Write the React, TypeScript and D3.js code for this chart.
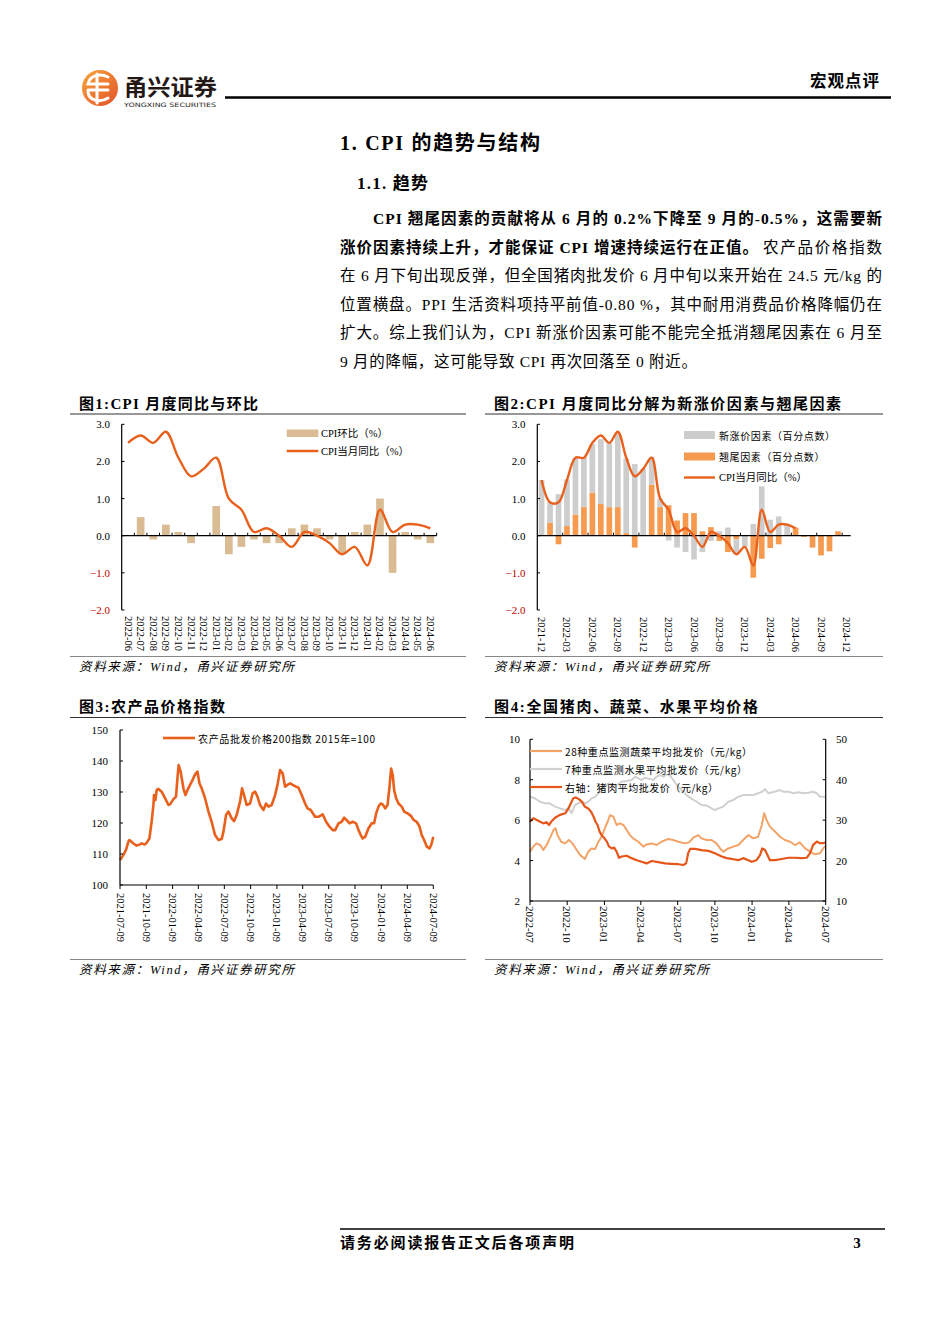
import React from 'react';
import * as d3 from 'd3';

const SERIF = '"Liberation Serif", "Times New Roman", "Noto Sans CJK SC", serif';
const SANS = '"Noto Sans CJK SC", sans-serif';

// ---------- Chart 1 data ----------
const c1Months = ['2022-06','2022-07','2022-08','2022-09','2022-10','2022-11','2022-12','2023-01','2023-02','2023-03','2023-04','2023-05','2023-06','2023-07','2023-08','2023-09','2023-10','2023-11','2023-12','2024-01','2024-02','2024-03','2024-04','2024-05','2024-06'];
const c1Mom = [0.0,0.5,-0.1,0.3,0.1,-0.2,0.0,0.8,-0.5,-0.3,-0.1,-0.2,-0.2,0.2,0.3,0.2,-0.1,-0.5,0.1,0.3,1.0,-1.0,0.1,-0.1,-0.2];
const c1Yoy = [2.5,2.7,2.5,2.8,2.1,1.6,1.8,2.1,1.0,0.7,0.1,0.2,0.0,-0.3,0.1,0.0,-0.2,-0.5,-0.3,-0.8,0.7,0.1,0.3,0.3,0.2];
const c1Ticks = [-2, -1, 0, 1, 2, 3];

// ---------- Chart 2 data ----------
const c2Months = ['2021-12','2022-01','2022-02','2022-03','2022-04','2022-05','2022-06','2022-07','2022-08','2022-09','2022-10','2022-11','2022-12','2023-01','2023-02','2023-03','2023-04','2023-05','2023-06','2023-07','2023-08','2023-09','2023-10','2023-11','2023-12','2024-01','2024-02','2024-03','2024-04','2024-05','2024-06','2024-07','2024-08','2024-09','2024-10','2024-11','2024-12'];
const c2Tail = [0,0.35,-0.23,0.26,0.57,0.77,1.16,0.86,0.77,0.77,0.07,-0.32,0,1.37,0.77,0.82,0.41,0.61,0.61,0.12,0.23,-0.14,-0.44,-0.1,0,-1.13,-0.62,-0.33,-0.23,0,0.22,-0.03,-0.32,-0.53,-0.42,0.12,0];
const c2New = [1.5,0.55,1.12,1.26,1.51,1.35,1.3,1.74,1.72,1.99,2.01,1.93,1.8,0.76,0.23,-0.13,-0.32,-0.44,-0.64,-0.44,-0.14,0.12,0.22,-0.4,-0.3,0.32,1.33,0.43,0.52,0.3,0,0,0,0,0,0,0];
const c2Yoy = [1.5,0.9,0.9,1.5,2.1,2.1,2.5,2.7,2.5,2.8,2.1,1.6,1.8,2.1,1.0,0.7,0.1,0.2,0.0,-0.3,0.1,0.0,-0.2,-0.5,-0.3,-0.8,0.7,0.1,0.3,0.3,0.2];

// ---------- Chart 3 data (weeks since 2021-07-09, index value) ----------
const c3Start = new Date(2021, 6, 9);
const c3End = new Date(2024, 6, 9);
const c3Week = [0,1.7,3,4.2,4.7,6.7,8.3,10,10.8,12.5,13.3,14.7,15.8,16.7,17,17.7,18.3,19.2,20.8,22.5,24.2,25,26.7,28,28.7,29.3,30.3,31.7,32.7,33.7,35,36.3,37,38,38.7,39.7,40.8,42.5,44.2,45.8,47.5,49.2,50.8,51.7,53,54.2,55.8,57,58.3,60,61,62,63.3,65,66.3,67.5,68.7,70,71.7,73,74.2,75.8,77.5,78.7,80,81.3,82.5,83.7,85,86.3,88,89.2,90.8,92.5,93.7,95.3,97.5,99.2,101.3,103,104.7,106.3,107.5,109.2,110.8,112,113.3,114.7,116.3,118,119.2,120.3,121.3,122.5,124.2,125.8,127,128,129.2,130.3,131.3,132.5,133.7,134.7,135.5,136.3,137,138,139.2,140.8,142,143.7,145.3,146.7,148.3,149.7,150.8,152,153.3,154.7,155.5,156.6];
const c3Val = [108.1,109.7,111.3,114,114.5,113.4,112.7,113.1,113.4,113.1,113.6,115,120.4,125.8,129,127.4,130.6,131,130.1,128,125.8,126,127.7,128.5,134.4,138.7,136.6,131.2,129,130.6,132.3,133.9,135,136.1,136.6,132.8,131.2,128,123.7,120.4,116.1,114.5,114.8,117.2,122.6,123.7,121.5,120.6,122.6,126.9,131.2,129,125.8,126.3,129.6,130.1,128.5,125.8,124.2,126.3,125.3,125.8,129,132.3,137.1,136,131.7,132.3,132.8,132.3,131.7,131.4,129,126.3,124.7,124.2,122,122,122.8,120.4,118.8,117.7,117.7,119.9,120.4,121.7,120.9,119.9,120.4,119.9,117.7,116.1,115,115.5,118.3,119.9,119.9,123.1,125.3,126.3,126,124.7,125.8,131.7,137.6,135.5,130.6,128,126.3,125.3,123.7,123.1,122.4,121,120.4,118.8,116.1,114.5,112.4,111.8,112.9,115.5];
const c3Ticks = ['2021-07-09','2021-10-09','2022-01-09','2022-04-09','2022-07-09','2022-10-09','2023-01-09','2023-04-09','2023-07-09','2023-10-09','2024-01-09','2024-04-09','2024-07-09'];
const c3YTicks = [100, 110, 120, 130, 140, 150];

// ---------- Chart 4 data (days since 2022-07-01) ----------
const c4Start = new Date(2022, 6, 1);
const c4End = new Date(2024, 6, 1);
const c4Veg = [[0,4.44],[8,4.69],[16,4.85],[25,4.77],[33,4.52],[41,4.77],[49,5.1],[58,5.51],[63,5.6],[68,5.26],[77,4.93],[87,4.85],[96,5.02],[105,4.85],[113,4.6],[124,4.27],[136,4.08],[144,4.44],[152,4.6],[161,4.57],[169,4.93],[177,5.18],[185,5.6],[192,5.92],[198,6.25],[206,6.17],[214,5.76],[222,5.84],[231,5.76],[239,5.51],[247,5.26],[255,5.1],[268,4.93],[280,4.69],[288,4.8],[301,4.85],[313,4.77],[325,4.93],[342,5.07],[354,5.02],[367,4.93],[383,4.85],[393,4.9],[404,5.13],[416,5.26],[424,5.1],[437,5.02],[449,5.02],[461,4.85],[470,4.6],[478,4.44],[490,4.6],[503,4.69],[515,4.77],[527,5.02],[540,5.26],[552,5.1],[564,5.18],[573,5.76],[579,6.34],[585,6.0],[593,5.68],[606,5.43],[618,5.18],[630,5.02],[643,4.93],[655,4.77],[667,4.9],[680,4.6],[692,4.44],[705,4.31],[717,4.36],[725,4.6],[731,4.74]];
const c4Fruit = [[0,7.16],[12,7.08],[25,6.91],[37,6.83],[49,6.83],[62,6.67],[74,6.58],[87,6.5],[95,6.58],[103,6.34],[111,6.75],[119,6.83],[128,6.91],[136,6.83],[144,6.91],[152,7.08],[161,7.16],[169,7.33],[177,7.49],[185,7.66],[194,7.82],[202,7.77],[214,7.74],[227,7.9],[239,7.94],[251,7.99],[260,8.15],[268,8.07],[276,7.99],[284,8.1],[297,8.04],[305,7.99],[313,8.15],[321,8.23],[330,8.15],[338,8.27],[346,8.2],[354,7.99],[363,7.74],[375,7.49],[387,7.24],[400,7.05],[412,6.91],[424,6.75],[437,6.72],[449,6.58],[457,6.5],[466,6.58],[478,6.67],[490,6.91],[503,7.0],[515,7.16],[527,7.24],[540,7.24],[552,7.24],[564,7.33],[574,7.41],[581,7.54],[589,7.33],[599,7.38],[610,7.44],[618,7.49],[626,7.41],[639,7.41],[651,7.33],[663,7.38],[676,7.33],[688,7.36],[700,7.41],[709,7.33],[717,7.16],[725,7.16],[731,7.16]];
const c4Pork = [[0,29.6],[8,30.5],[16,30.1],[25,29.6],[33,29.2],[41,29.5],[47,28.8],[54,29.8],[62,30.6],[74,31.3],[87,31.7],[95,32.9],[101,34.2],[107,35.4],[113,35.6],[121,35.2],[128,34.6],[136,33.3],[144,32.9],[151,32.1],[157,30.9],[162,29.6],[167,28.8],[172,27.2],[177,26.3],[184,25.5],[190,24.7],[195,23.5],[202,23.0],[208,23.2],[214,22.2],[220,20.7],[227,21.0],[239,21.2],[251,20.6],[264,20.1],[276,19.7],[288,19.3],[301,19.9],[317,19.6],[334,19.3],[350,19.2],[367,19.1],[379,18.9],[386,19.3],[391,21.8],[396,22.9],[408,22.9],[424,22.6],[441,22.4],[457,21.8],[474,21.0],[486,20.6],[499,20.4],[515,20.1],[527,20.6],[540,20.1],[548,19.7],[560,20.1],[569,21.4],[574,23.0],[581,22.6],[587,21.4],[593,20.1],[606,20.1],[622,20.4],[639,20.7],[655,20.7],[672,20.6],[684,20.7],[692,21.8],[700,23.9],[709,24.7],[717,24.3],[725,24.3],[731,24.5]];
const c4Ticks = ['2022-07','2022-10','2023-01','2023-04','2023-07','2023-10','2024-01','2024-04','2024-07'];
const c4LTicks = [2, 4, 6, 8, 10];
const c4RTicks = [10, 20, 30, 40, 50];

const ORANGE_LINE = '#E8601C';
const RED = '#C00000';

function RotLabel({ x, y, text, size }: { x: number; y: number; text: string; size: number }) {
  return (
    <text transform={`translate(${x},${y}) rotate(90)`} fontSize={size} fontFamily={SERIF} dominantBaseline="central" fill="#000">
      {text}
    </text>
  );
}

function Chart1() {
  const x = d3.scaleBand<string>().domain(c1Months).range([121.7, 436.7]).paddingInner(0.39).paddingOuter(0.2);
  const y = d3.scaleLinear().domain([-2, 3]).range([610, 424.3]);
  const cx = (m: string) => (x(m) as number) + x.bandwidth() / 2;
  const line = d3.line<number>().x((_, i) => cx(c1Months[i])).y((d) => y(d)).curve(d3.curveCatmullRom.alpha(0.5));
  return (
    <g>
      {c1Months.map((m, i) => (
        <rect key={m} x={x(m)} width={x.bandwidth()} y={y(Math.max(0, c1Mom[i]))} height={Math.abs(y(c1Mom[i]) - y(0))} fill="#D9BC94" />
      ))}
      <line x1={121.7} x2={436.7} y1={y(0)} y2={y(0)} stroke="#000" strokeWidth={1.2} />
      {c1Months.map((m, i) => (
        <line key={'t' + m} x1={121.7 + (i + 1) * 12.6} x2={121.7 + (i + 1) * 12.6} y1={y(0)} y2={y(0) - 3} stroke="#000" strokeWidth={1} />
      ))}
      <path d={line(c1Yoy) || ''} fill="none" stroke={ORANGE_LINE} strokeWidth={2.4} />
      <line x1={121.7} x2={121.7} y1={y(3)} y2={y(-2)} stroke="#000" strokeWidth={1.2} />
      {c1Ticks.map((t) => (
        <g key={t}>
          <line x1={121.7} x2={124.5} y1={y(t)} y2={y(t)} stroke="#000" />
          <text x={110} y={y(t)} textAnchor="end" dominantBaseline="central" fontSize={11} fontFamily={SERIF} fill={t < 0 ? RED : '#000'}>
            {d3.format('.1f')(t)}
          </text>
        </g>
      ))}
      {c1Months.map((m) => (
        <RotLabel key={'l' + m} x={cx(m)} y={616} text={m} size={10.5} />
      ))}
      <rect x={286.7} y={429.5} width={31.6} height={7.5} fill="#D9BC94" />
      <text x={321} y={433.5} fontSize={10.5} fontFamily={SERIF} dominantBaseline="central">CPI环比（%）</text>
      <line x1={286.7} x2={318.3} y1={451} y2={451} stroke={ORANGE_LINE} strokeWidth={2.4} />
      <text x={321} y={451} fontSize={10.5} fontFamily={SERIF} dominantBaseline="central">CPI当月同比（%）</text>
    </g>
  );
}

function Chart2() {
  const x = d3.scaleBand<string>().domain(c2Months).range([537.3, 850.7]).paddingInner(0.33).paddingOuter(0.17);
  const y = d3.scaleLinear().domain([-2, 3]).range([610, 424.3]);
  const step = x.step();
  const cx = (m: string) => (x(m) as number) + x.bandwidth() / 2;
  const line = d3.line<number>().x((_, i) => cx(c2Months[i])).y((d) => y(d)).curve(d3.curveCatmullRom.alpha(0.5));
  const bars: { m: string; y0: number; y1: number; c: string }[] = [];
  c2Months.forEach((m, i) => {
    const o = c2Tail[i];
    const g = c2New[i];
    bars.push({ m, y0: 0, y1: o, c: '#F59A4E' });
    const base = o !== 0 && Math.sign(o) === Math.sign(g) ? o : 0;
    bars.push({ m, y0: base, y1: base + g, c: '#CDCDCD' });
  });
  return (
    <g>
      {bars.map((b, i) => (
        <rect key={i} x={x(b.m)} width={x.bandwidth()} y={y(Math.max(b.y0, b.y1))} height={Math.abs(y(b.y0) - y(b.y1))} fill={b.c} />
      ))}
      <line x1={537.3} x2={850.7} y1={y(0)} y2={y(0)} stroke="#000" strokeWidth={1.2} />
      {d3.range(3, 38, 3).map((k) => (
        <line key={'t' + k} x1={537.3 + k * step} x2={537.3 + k * step} y1={y(0)} y2={y(0) - 3} stroke="#000" />
      ))}
      <path d={line(c2Yoy) || ''} fill="none" stroke={ORANGE_LINE} strokeWidth={2.4} />
      <line x1={537.3} x2={537.3} y1={y(3)} y2={y(-2)} stroke="#000" strokeWidth={1.2} />
      {c1Ticks.map((t) => (
        <g key={t}>
          <line x1={537.3} x2={540} y1={y(t)} y2={y(t)} stroke="#000" />
          <text x={525.5} y={y(t)} textAnchor="end" dominantBaseline="central" fontSize={11} fontFamily={SERIF} fill={t < 0 ? RED : '#000'}>
            {d3.format('.1f')(t)}
          </text>
        </g>
      ))}
      {c2Months.filter((_, i) => i % 3 === 0).map((m) => (
        <RotLabel key={'l' + m} x={cx(m)} y={617} text={m} size={10.5} />
      ))}
      <rect x={684} y={431} width={31} height={8} fill="#CDCDCD" />
      <text x={719} y={435} fontSize={10} fontFamily={SANS} dominantBaseline="central" letterSpacing={0.6}>新涨价因素（百分点数）</text>
      <rect x={684} y={452.5} width={31} height={8} fill="#F59A4E" />
      <text x={719} y={456.5} fontSize={10} fontFamily={SANS} dominantBaseline="central" letterSpacing={0.6}>翘尾因素（百分点数）</text>
      <line x1={684} x2={715} y1={477.5} y2={477.5} stroke={ORANGE_LINE} strokeWidth={2.4} />
      <text x={719} y={477.5} fontSize={10.5} fontFamily={SERIF} dominantBaseline="central">CPI当月同比（%）</text>
    </g>
  );
}

function Chart3() {
  const x = d3.scaleTime().domain([c3Start, c3End]).range([120, 433.3]);
  const y = d3.scaleLinear().domain([100, 150]).range([885, 730]);
  const pts = c3Week.map((w, i) => ({ d: new Date(c3Start.getTime() + w * 7 * 864e5), v: c3Val[i] }));
  const line = d3.line<{ d: Date; v: number }>().x((p) => x(p.d)).y((p) => y(p.v));
  const parse = d3.timeParse('%Y-%m-%d');
  return (
    <g>
      <path d={line(pts) || ''} fill="none" stroke={ORANGE_LINE} strokeWidth={2.6} strokeLinejoin="round" />
      <line x1={120} x2={120} y1={730} y2={885} stroke="#000" strokeWidth={1.2} />
      <line x1={120} x2={433.3} y1={885} y2={885} stroke="#000" strokeWidth={1.2} />
      {c3YTicks.map((t) => (
        <g key={t}>
          <line x1={120} x2={123} y1={y(t)} y2={y(t)} stroke="#000" />
          <text x={108} y={y(t)} textAnchor="end" dominantBaseline="central" fontSize={11} fontFamily={SERIF}>{t}</text>
        </g>
      ))}
      {c3Ticks.map((t) => {
        const xx = x(parse(t) as Date);
        return (
          <g key={t}>
            <line x1={xx} x2={xx} y1={885} y2={889} stroke="#000" />
            <RotLabel x={xx} y={893} text={t} size={10.5} />
          </g>
        );
      })}
      <line x1={163} x2={195} y1={738} y2={738} stroke={ORANGE_LINE} strokeWidth={2.6} />
      <text x={198} y={738} fontSize={10} fontFamily={SANS} dominantBaseline="central" textLength={177} lengthAdjust="spacing">农产品批发价格200指数 2015年=100</text>
    </g>
  );
}

function Chart4() {
  const x = d3.scaleTime().domain([c4Start, c4End]).range([530, 825.7]);
  const yL = d3.scaleLinear().domain([2, 10]).range([901, 739.3]);
  const yR = d3.scaleLinear().domain([10, 50]).range([901, 739.3]);
  const toDate = (d: number) => d3.timeDay.offset(c4Start, d);
  const lineL = d3.line<number[]>().x((p) => x(toDate(p[0]))).y((p) => yL(p[1]));
  const lineR = d3.line<number[]>().x((p) => x(toDate(p[0]))).y((p) => yR(p[1]));
  const parse = d3.timeParse('%Y-%m');
  return (
    <g>
      <path d={lineL(c4Fruit) || ''} fill="none" stroke="#D0D0D0" strokeWidth={2} strokeLinejoin="round" />
      <path d={lineL(c4Veg) || ''} fill="none" stroke="#F2A468" strokeWidth={2} strokeLinejoin="round" />
      <path d={lineR(c4Pork) || ''} fill="none" stroke="#E4561A" strokeWidth={2.2} strokeLinejoin="round" />
      <line x1={530} x2={530} y1={739.3} y2={901} stroke="#000" strokeWidth={1.2} />
      <line x1={825.7} x2={825.7} y1={739.3} y2={901} stroke="#000" strokeWidth={1.2} />
      <line x1={530} x2={825.7} y1={901} y2={901} stroke="#000" strokeWidth={1.2} />
      {c4LTicks.map((t) => (
        <g key={'l' + t}>
          <line x1={530} x2={533} y1={yL(t)} y2={yL(t)} stroke="#000" />
          <text x={520} y={yL(t)} textAnchor="end" dominantBaseline="central" fontSize={11} fontFamily={SERIF}>{t}</text>
        </g>
      ))}
      {c4RTicks.map((t) => (
        <g key={'r' + t}>
          <line x1={822.7} x2={825.7} y1={yR(t)} y2={yR(t)} stroke="#000" />
          <text x={836} y={yR(t)} textAnchor="start" dominantBaseline="central" fontSize={11} fontFamily={SERIF}>{t}</text>
        </g>
      ))}
      {c4Ticks.map((t) => {
        const xx = x(parse(t) as Date);
        return (
          <g key={t}>
            <line x1={xx} x2={xx} y1={901} y2={905} stroke="#000" />
            <RotLabel x={xx} y={906} text={t} size={11} />
          </g>
        );
      })}
      <line x1={530} x2={562} y1={751} y2={751} stroke="#F2A468" strokeWidth={2.2} />
      <text x={565} y={751} fontSize={10} fontFamily={SANS} dominantBaseline="central" textLength={187} lengthAdjust="spacing">28种重点监测蔬菜平均批发价（元/kg）</text>
      <line x1={530} x2={562} y1={769} y2={769} stroke="#D0D0D0" strokeWidth={2.2} />
      <text x={565} y={769} fontSize={10} fontFamily={SANS} dominantBaseline="central" textLength={182} lengthAdjust="spacing">7种重点监测水果平均批发价（元/kg）</text>
      <line x1={530} x2={562} y1={787} y2={787} stroke="#E4561A" strokeWidth={2.2} />
      <text x={565} y={787} fontSize={10} fontFamily={SANS} dominantBaseline="central" textLength={153} lengthAdjust="spacing">右轴：猪肉平均批发价（元/kg）</text>
    </g>
  );
}

function Frame({ x0, x1, titleY, lineTop, lineBot, srcY, title, titleLen }: any) {
  return (
    <g>
      <text x={x0 + 9} y={titleY} fontSize={15} fontWeight="bold" fontFamily={SERIF} textLength={titleLen} lengthAdjust="spacing">{title}</text>
      <line x1={x0} x2={x1} y1={lineTop} y2={lineTop} stroke="#333" strokeWidth={1.2} />
      <line x1={x0} x2={x1} y1={lineBot} y2={lineBot} stroke="#888" strokeWidth={1.2} />
      <text x={x0 + 9} y={srcY} fontSize={12.5} fontStyle="italic" fontFamily={SERIF} textLength={215} lengthAdjust="spacing">资料来源：Wind，甬兴证券研究所</text>
    </g>
  );
}

export default function App() {
  const para = [
    { y: 224, parts: [{ t: 'CPI 翘尾因素的贡献将从 6 月的 0.2%下降至 9 月的-0.5%，这需要新', b: true, x0: 373, x1: 882 }] },
    { y: 252.5, parts: [{ t: '涨价因素持续上升，才能保证 CPI 增速持续运行在正值。', b: true, x0: 340, x1: 758 }, { t: '农产品价格指数', b: false, x0: 763, x1: 882 }] },
    { y: 281, parts: [{ t: '在 6 月下旬出现反弹，但全国猪肉批发价 6 月中旬以来开始在 24.5 元/kg 的', b: false, x0: 340, x1: 882 }] },
    { y: 309.5, parts: [{ t: '位置横盘。PPI 生活资料项持平前值-0.80 %，其中耐用消费品价格降幅仍在', b: false, x0: 340, x1: 882 }] },
    { y: 338, parts: [{ t: '扩大。综上我们认为，CPI 新涨价因素可能不能完全抵消翘尾因素在 6 月至', b: false, x0: 340, x1: 882 }] },
    { y: 366.5, parts: [{ t: '9 月的降幅，这可能导致 CPI 再次回落至 0 附近。', b: false, x0: 340, x1: 697 }] },
  ];
  return (
    <svg width={950} height={1344} style={{ position: 'absolute', left: 0, top: 0, background: '#fff' }} xmlns="http://www.w3.org/2000/svg">
      <defs>
        <linearGradient id="logoG" x1="0" y1="0" x2="1" y2="1">
          <stop offset="0" stopColor="#F7A53A" />
          <stop offset="1" stopColor="#E2522A" />
        </linearGradient>
      </defs>
      <rect x={0} y={0} width={950} height={1344} fill="#fff" />
      {/* header */}
      <circle cx={100} cy={88} r={18} fill="url(#logoG)" />
      <path d="M108 77 C 100 73, 90 75, 88 84 L 108 84 M 88 90 L 108 90 M 88 92 C 89 101, 100 103, 108 98 M 97 74 L 97 103" fill="none" stroke="#fff" strokeWidth={3} strokeLinecap="round" />
      <text x={124} y={95} fontSize={22} fontWeight="bold" fontFamily={SANS} fill="#231815" textLength={93} lengthAdjust="spacingAndGlyphs">甬兴证券</text>
      <text x={124} y={106.5} fontSize={6} fontFamily='"DejaVu Sans", sans-serif' fill="#231815" textLength={92} lengthAdjust="spacingAndGlyphs">YONGXING SECURITIES</text>
      <line x1={225} x2={891} y1={97.5} y2={97.5} stroke="#000" strokeWidth={2.6} />
      <text x={880} y={87} fontSize={16.5} fontWeight="bold" fontFamily={SANS} textAnchor="end" letterSpacing={1}>宏观点评</text>

      {/* headings */}
      <text x={340} y={149.5} fontSize={20} fontWeight="bold" fontFamily={SERIF} textLength={200} lengthAdjust="spacing">1. CPI 的趋势与结构</text>
      <text x={357} y={188.5} fontSize={17} fontWeight="bold" fontFamily={SERIF} textLength={71} lengthAdjust="spacing">1.1. 趋势</text>

      {para.map((ln, i) => (
        <g key={i}>
          {ln.parts.map((p, j) => (
            <text key={j} x={p.x0} y={ln.y} fontSize={15.5} fontWeight={p.b ? 'bold' : 'normal'} fontFamily={SERIF} textLength={p.x1 - p.x0} lengthAdjust="spacing" fill="#000">
              {p.t}
            </text>
          ))}
        </g>
      ))}

      <Frame x0={70} x1={466} titleY={408.5} lineTop={414} lineBot={656.5} srcY={670.5} title="图1:CPI 月度同比与环比" titleLen={179} />
      <Frame x0={485} x1={883} titleY={408.5} lineTop={414} lineBot={656.5} srcY={670.5} title="图2:CPI 月度同比分解为新涨价因素与翘尾因素" titleLen={347} />
      <Frame x0={70} x1={466} titleY={711.5} lineTop={717.5} lineBot={959.5} srcY={973.5} title="图3:农产品价格指数" titleLen={146} />
      <Frame x0={485} x1={883} titleY={711.5} lineTop={717.5} lineBot={959.5} srcY={973.5} title="图4:全国猪肉、蔬菜、水果平均价格" titleLen={264} />

      <Chart1 />
      <Chart2 />
      <Chart3 />
      <Chart4 />

      {/* footer */}
      <line x1={340} x2={885} y1={1229} y2={1229} stroke="#000" strokeWidth={1.5} />
      <text x={340} y={1247.5} fontSize={15} fontWeight="bold" fontFamily={SERIF} textLength={234} lengthAdjust="spacing">请务必阅读报告正文后各项声明</text>
      <text x={857} y={1247.5} fontSize={15} fontWeight="bold" fontFamily={SERIF} textAnchor="middle">3</text>
    </svg>
  );
}
